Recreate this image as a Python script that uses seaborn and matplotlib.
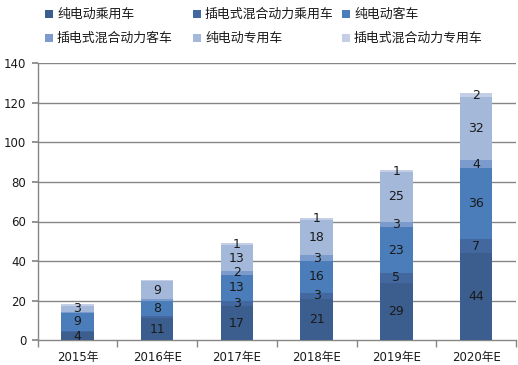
import matplotlib
matplotlib.use("Agg")
import matplotlib.pyplot as plt
import seaborn as sns
import numpy as np
import pandas as pd
from matplotlib.patches import Rectangle
from matplotlib.ticker import FixedLocator

years = ["2015年", "2016年E", "2017年E", "2018年E", "2019年E", "2020年E"]
series_names = ["纯电动乘用车", "插电式混合动力乘用车", "纯电动客车",
                "插电式混合动力客车", "纯电动专用车", "插电式混合动力专用车"]
bev_car = [4, 11, 17, 21, 29, 44]
phev_car = [0.8, 0.9, 3, 3, 5, 7]
bev_bus = [9, 8, 13, 16, 23, 36]
phev_bus = [0.6, 0.8, 2, 3, 3, 4]
bev_special = [3, 9, 13, 18, 25, 32]
phev_special = [0.8, 0.9, 1, 1, 1, 2]
colors = ["#3B5E8E", "#42689F", "#4A7DBA", "#7A9BCC", "#A4B8DA", "#C4CEE4"]

series = [bev_car, phev_car, bev_bus, phev_bus, bev_special, phev_special]

sns.set_theme(style="white")
plt.rcParams['font.family'] = ['DejaVu Sans', 'Noto Sans CJK SC']

W, H = 518, 365
fig = plt.figure(figsize=(W / 100, H / 100), dpi=100)
ax = fig.add_axes([37.5 / W, (H - 340) / H, (516 - 37.5) / W, (340 - 63.5) / H])

vals = np.array(series, dtype=float)
cum = np.cumsum(vals, axis=0)

# draw cumulative bars from top series down so lower segments overlay
for i in range(len(series) - 1, -1, -1):
    df = pd.DataFrame({"year": years, "value": cum[i]})
    sns.barplot(data=df, x="year", y="value", color=colors[i], width=0.41,
                saturation=1, ax=ax, zorder=3, linewidth=0)

# labels
for i in range(len(series)):
    for j in range(len(years)):
        v = vals[i, j]
        if v >= 1:
            ax.text(j, cum[i, j] - v / 2, f"{int(round(v))}", ha="center", va="center",
                    fontsize=9, color="#1a1a1a", zorder=5)

ax.set_ylim(0, 140)
ax.set_xlim(-0.5, 5.5)
ax.set_yticks(np.arange(0, 141, 20))
ax.set_xlabel("")
ax.set_ylabel("")
for y in np.arange(20, 141, 20):
    ax.axhline(y, color="#868686", linewidth=1, zorder=1)
ax.grid(False)
for s in ["top", "right"]:
    ax.spines[s].set_visible(False)
for s in ["left", "bottom"]:
    ax.spines[s].set_color("#868686")
    ax.spines[s].set_linewidth(1)

ax.tick_params(axis="y", which="major", length=4, color="#868686", direction="out",
               labelsize=8.5, labelcolor="#1a1a1a", pad=4, left=True)
ax.tick_params(axis="x", which="major", length=0, labelsize=8.5, labelcolor="#1a1a1a", pad=8)
ax.xaxis.set_minor_locator(FixedLocator(np.arange(-0.5, 6, 1)))
ax.tick_params(axis="x", which="minor", length=5, color="#868686", direction="out", bottom=True)

# legend laid out in fixed-width columns (row-major order)
col_x = [45, 193, 342]
row_y = [14, 38]
for k, name in enumerate(series_names):
    r, c = divmod(k, 3)
    x0, yc = col_x[c], row_y[r]
    fig.patches.append(Rectangle((x0 / W, 1 - (yc + 4) / H), 8 / W, 8 / H,
                                 transform=fig.transFigure, facecolor=colors[k],
                                 edgecolor="none"))
    fig.text((x0 + 12) / W, 1 - yc / H, name, ha="left", va="center",
             fontsize=9.3, color="#1a1a1a",
             family=["Noto Sans CJK SC", "DejaVu Sans"])

fig.savefig("out.png", dpi=100)
